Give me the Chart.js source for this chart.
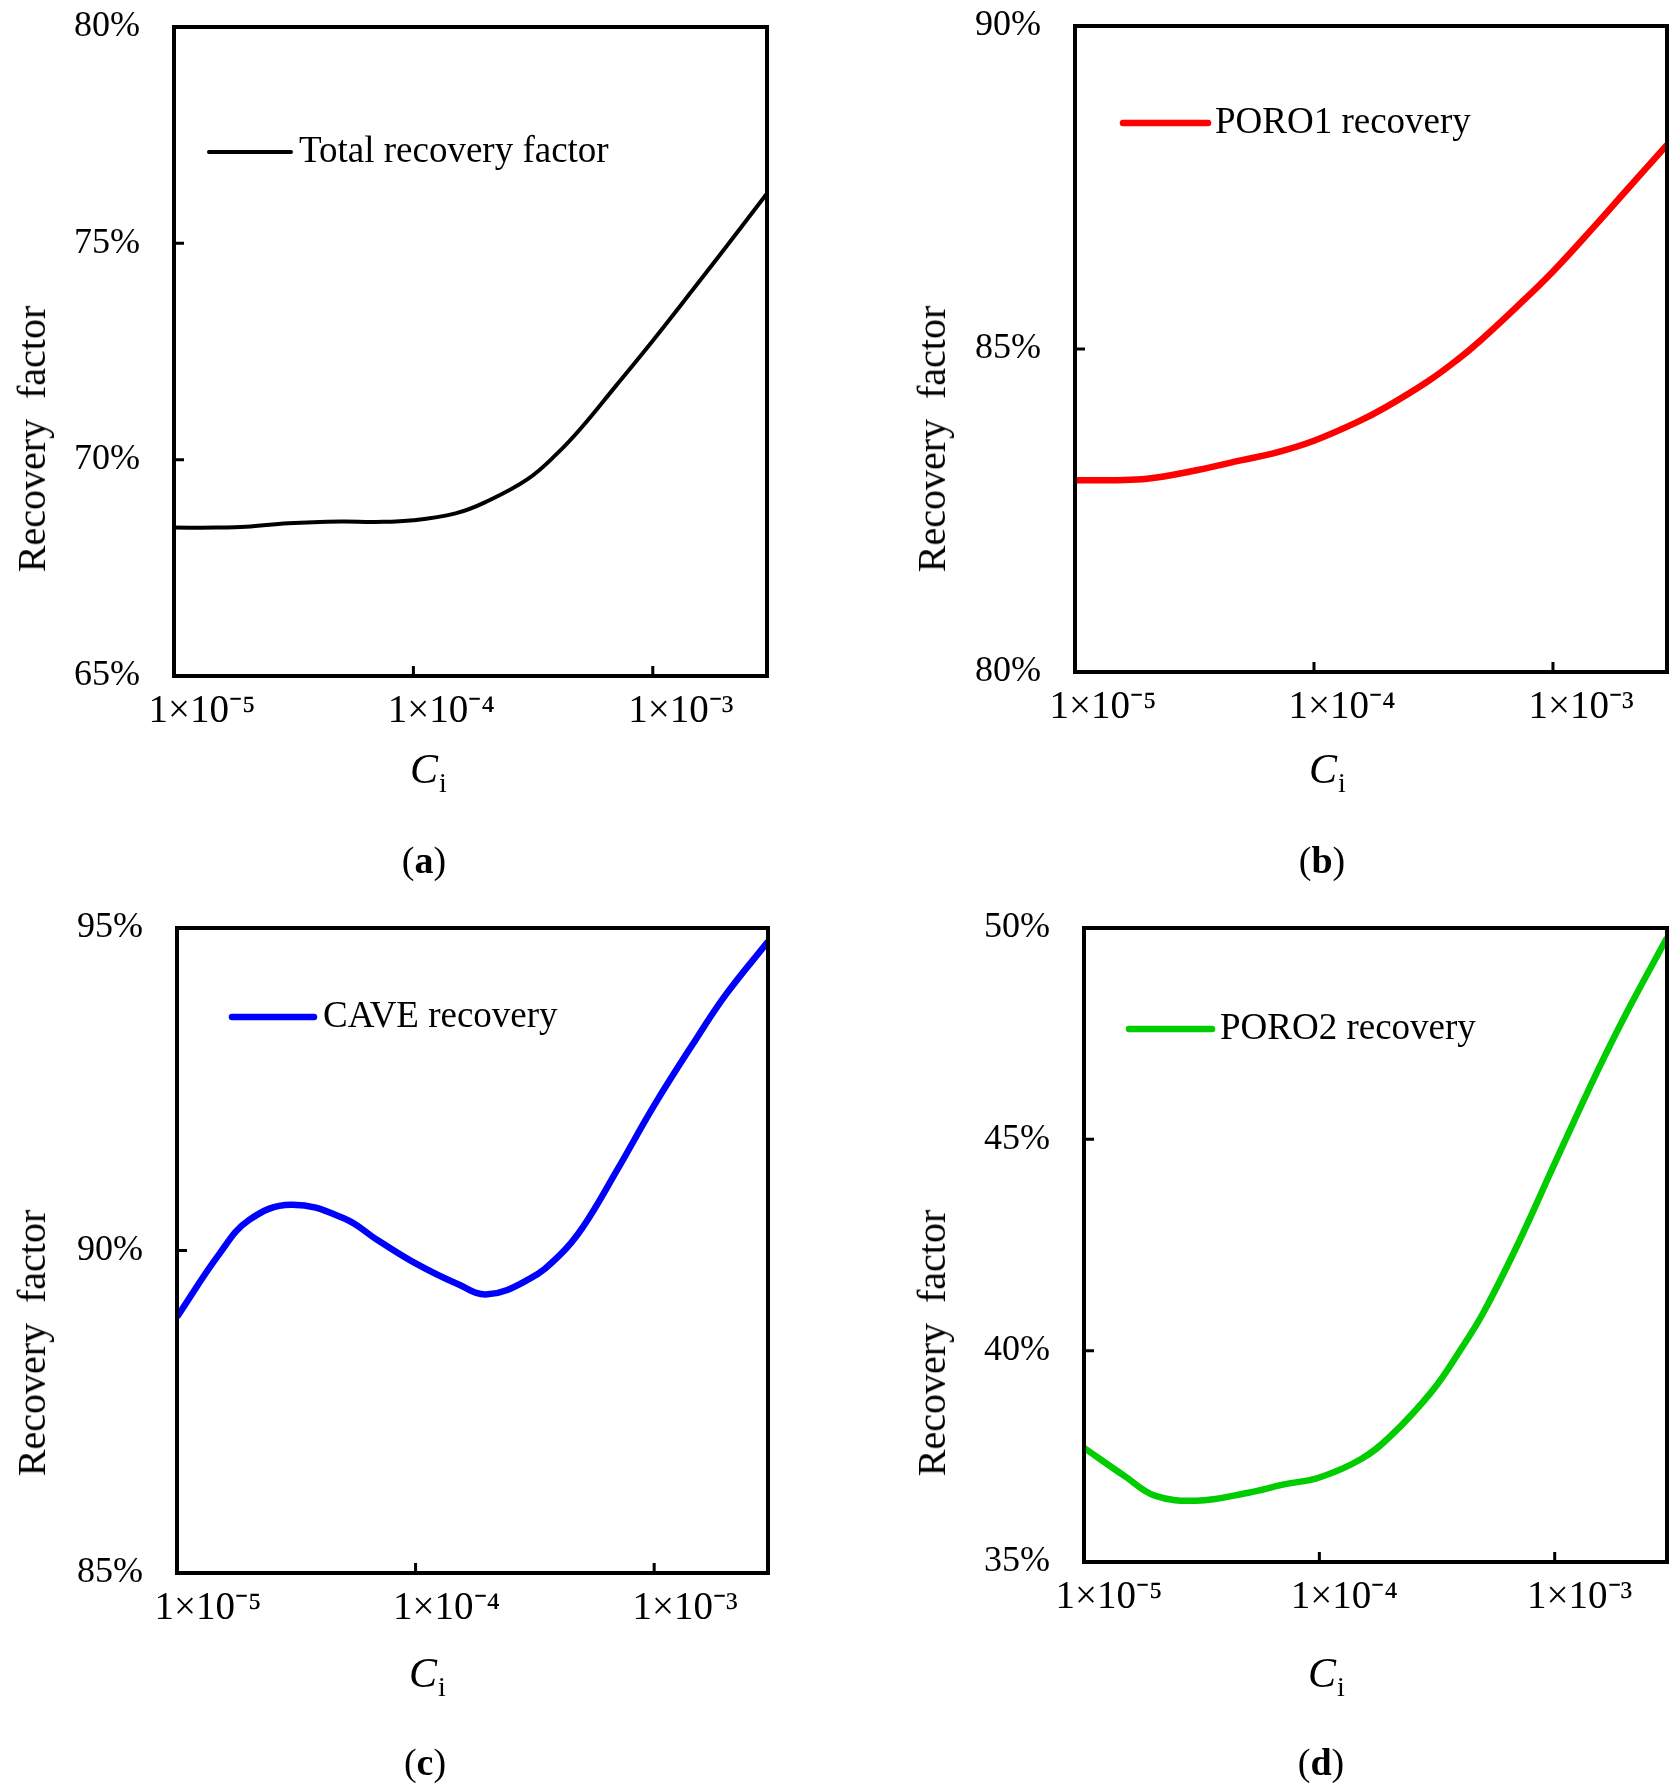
<!DOCTYPE html>
<html>
<head>
<meta charset="utf-8">
<script src="https://cdn.jsdelivr.net/npm/chart.js@4.4.1/dist/chart.umd.min.js"></script>
<style>
  body { margin: 0; background: #fff; }
  #wrap { position: relative; width: 1680px; height: 1790px; background: #fff; }
  canvas { position: absolute; }
  .ytitle { position: absolute; font: 40px "Liberation Serif", serif; white-space: pre; color: #000;
            transform: translate(-50%, -50%) rotate(-90deg); line-height: 40px; }
  .xtitle { position: absolute; font: 42px "Liberation Serif", serif; line-height: 40px; white-space: nowrap; color: #000; }
  .xtitle .sub { font-size: 28px; position: relative; top: 9px; font-style: normal; margin-left: 1px; }
  .cap { position: absolute; width: 200px; text-align: center; font: 38px "Liberation Serif", serif; line-height: 40px; color: #000; }
</style>
</head>
<body>
<div id="wrap">
  <canvas id="js--chart--a" width="840" height="895" style="left:0px;top:0px"></canvas>
  <canvas id="js--chart--b" width="840" height="895" style="left:840px;top:0px"></canvas>
  <canvas id="js--chart--c" width="840" height="895" style="left:0px;top:895px"></canvas>
  <canvas id="js--chart--d" width="840" height="895" style="left:840px;top:895px"></canvas>

  <div class="ytitle" style="left:32px;top:439px">Recovery  factor</div>
  <div class="ytitle" style="left:932px;top:439px">Recovery  factor</div>
  <div class="ytitle" style="left:32px;top:1343px">Recovery  factor</div>
  <div class="ytitle" style="left:932px;top:1343px">Recovery  factor</div>

  <div class="xtitle" style="left:410px;top:749px"><i>C</i><span class="sub">i</span></div>
  <div class="xtitle" style="left:1309px;top:749px"><i>C</i><span class="sub">i</span></div>
  <div class="xtitle" style="left:409px;top:1653px"><i>C</i><span class="sub">i</span></div>
  <div class="xtitle" style="left:1308px;top:1653px"><i>C</i><span class="sub">i</span></div>

  <div class="cap" style="left:324px;top:840px">(<b>a</b>)</div>
  <div class="cap" style="left:1222px;top:840px">(<b>b</b>)</div>
  <div class="cap" style="left:325px;top:1742px">(<b>c</b>)</div>
  <div class="cap" style="left:1221px;top:1742px">(<b>d</b>)</div>
</div>

<script>
// data (Ci on a log axis, recovery in %)
const ciValues = [1e-5, 1.5e-5, 2e-5, 3e-5, 5e-5, 7e-5, 1e-4, 1.5e-4, 2e-4, 3e-4, 4e-4, 5e-4, 7e-4, 1e-3, 1.5e-3, 2e-3, 3e-3];

const totalRecovery = [68.43, 68.43, 68.45, 68.53, 68.57, 68.56, 68.60, 68.76, 69.02, 69.55, 70.15, 70.72, 71.70, 72.75, 73.99, 74.88, 76.15];
const poro1Recovery = [82.97, 82.97, 82.99, 83.10, 83.28, 83.40, 83.58, 83.86, 84.10, 84.50, 84.84, 85.14, 85.64, 86.20, 86.91, 87.43, 88.16];
const caveRecovery  = [88.97, 89.94, 90.47, 90.71, 90.50, 90.15, 89.80, 89.48, 89.32, 89.56, 89.92, 90.35, 91.25, 92.25, 93.28, 93.97, 94.79];
const poro2Recovery = [37.70, 37.02, 36.57, 36.45, 36.64, 36.83, 37.00, 37.43, 37.97, 39.03, 40.04, 40.92, 42.54, 44.43, 46.55, 47.95, 49.77];

const seriesLabels = ['Total recovery factor', 'PORO1 recovery', 'CAVE recovery', 'PORO2 recovery'];

const xTickValues = [1e-5, 1e-4, 1e-3];
const xTickLabels = ['1×10⁻⁵', '1×10⁻⁴', '1×10⁻³'];

const yTicksA = [65, 70, 75, 80];
const yTicksB = [80, 85, 90];
const yTicksC = [85, 90, 95];
const yTicksD = [35, 40, 45, 50];

Chart.defaults.font.family = '"Liberation Serif", "Times New Roman", serif';
Chart.defaults.color = '#000';

// box = plot frame in page pixels [left, top, right, bottom], off = canvas offset
function makePanel(id, off, box, label, values, yTicks, color, lineWidth, legend, labelOffset) {
    const ctx = document.getElementById(id);
    const W = 840, H = 895;

    const frame = {
        id: 'frame',
        afterDatasetsDraw(chart) {
            const c = chart.ctx;
            const a = chart.chartArea;
            const xs = chart.scales.x;
            const ys = chart.scales.y;
            c.save();
            c.strokeStyle = '#000';
            c.lineWidth = 4;
            c.strokeRect(a.left, a.top, a.right - a.left, a.bottom - a.top);

            // inward tick marks
            c.lineWidth = 3;
            c.beginPath();
            xs.ticks.forEach(t => {
                const px = xs.getPixelForValue(t.value);
                if (px > a.left + 3 && px < a.right - 3) {
                    c.moveTo(px, a.bottom);
                    c.lineTo(px, a.bottom - 10);
                }
            });
            ys.ticks.forEach(t => {
                const py = ys.getPixelForValue(t.value);
                if (py > a.top + 3 && py < a.bottom - 3) {
                    c.moveTo(a.left, py);
                    c.lineTo(a.left + 10, py);
                }
            });
            c.stroke();

            // legend inside the plot
            const ds = chart.data.datasets[0];
            c.strokeStyle = ds.borderColor;
            c.lineWidth = ds.borderWidth;
            c.lineCap = 'round';
            c.beginPath();
            c.moveTo(legend[0] - off[0], legend[2] - off[1]);
            c.lineTo(legend[1] - off[0], legend[2] - off[1]);
            c.stroke();
            c.fillStyle = '#000';
            c.font = '37px "Liberation Serif", serif';
            c.textBaseline = 'middle';
            c.textAlign = 'left';
            c.fillText(ds.label, legend[3] - off[0], legend[2] - off[1]);
            c.restore();
        }
    };

    const top = box[1] - off[1];
    const bottom = box[3] - off[1];

    return new Chart(ctx, {
        type: 'line',
        data: {
            datasets: [{
                label: label,
                data: ciValues.map((v, i) => ({ x: v, y: values[i] })),
                borderColor: color,
                borderWidth: lineWidth,
                pointRadius: 0,
                tension: 0.4,
                fill: false
            }]
        },
        options: {
            responsive: false,
            animation: false,
            layout: {
                autoPadding: false,
                padding: { left: 0, top: 0, right: W - (box[2] - off[0]), bottom: 0 }
            },
            plugins: { legend: { display: false }, tooltip: { enabled: false } },
            scales: {
                x: {
                    type: 'logarithmic',
                    min: ciValues[0],
                    max: ciValues[ciValues.length - 1],
                    afterBuildTicks: s => { s.ticks = xTickValues.map(v => ({ value: v })); },
                    afterFit: s => { s.height = H - bottom; s.paddingLeft = 0; s.paddingRight = 0; },
                    grid: { display: false, drawTicks: false },
                    border: { display: false },
                    ticks: {
                        autoSkip: false,
                        maxRotation: 0,
                        padding: 12,
                        labelOffset: labelOffset,
                        font: { size: 39 },
                        callback: (v, i) => xTickLabels[i]
                    }
                },
                y: {
                    type: 'linear',
                    min: yTicks[0],
                    max: yTicks[yTicks.length - 1],
                    afterBuildTicks: s => { s.ticks = yTicks.map(v => ({ value: v })); },
                    afterFit: s => { s.width = box[0] - off[0]; s.paddingTop = 0; s.paddingBottom = 0; },
                    grid: { display: false, drawTicks: false },
                    border: { display: false },
                    ticks: {
                        padding: 34,
                        font: { size: 36 },
                        callback: v => v + '%'
                    }
                }
            }
        },
        plugins: [frame, {
            id: 'placeArea',
            // pin the plot frame to the measured top edge
            afterLayout(chart) {
                const a = chart.chartArea;
                a.top = top;
                a.height = a.bottom - a.top;
                const ys = chart.scales.y;
                ys.top = top;
                ys.height = ys.bottom - ys.top;
                ys.configure();
            }
        }]
    });
}

makePanel('js--chart--a', [0, 0], [174, 27, 767, 676], seriesLabels[0], totalRecovery, yTicksA,
    '#000000', 4, [209, 291, 152, 299], 28);
makePanel('js--chart--b', [840, 0], [1075, 26, 1667, 672], seriesLabels[1], poro1Recovery, yTicksB,
    '#ff0000', 6.5, [1123, 1208, 123, 1215], 28);
makePanel('js--chart--c', [0, 895], [177, 928, 768, 1573], seriesLabels[2], caveRecovery, yTicksC,
    '#0000ff', 6.5, [232, 314, 1017, 323], 31);
makePanel('js--chart--d', [840, 895], [1084, 928, 1667, 1562], seriesLabels[3], poro2Recovery, yTicksD,
    '#00cc00', 6.5, [1129, 1212, 1029, 1220], 25);
</script>
</body>
</html>
